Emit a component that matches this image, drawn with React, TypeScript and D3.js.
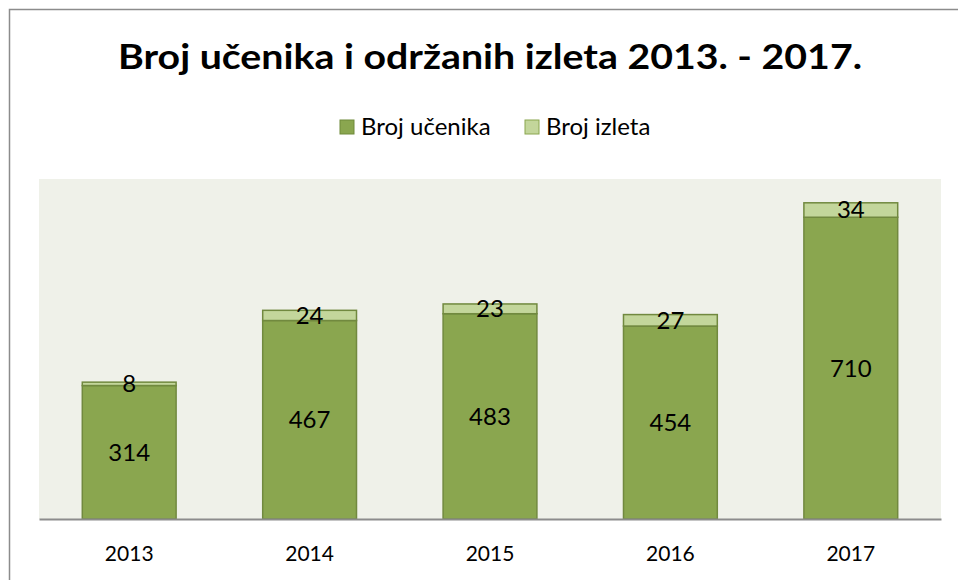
import React, { useEffect, useRef } from "react";
import * as d3 from "d3";

const years = ["2013", "2014", "2015", "2016", "2017"];
const brojUcenika = [314, 467, 483, 454, 710];
const brojIzleta = [8, 24, 23, 27, 34];
const seriesNames = ["Broj učenika", "Broj izleta"];

const W = 958;
const H = 580;
const FONT = "Lato, 'Open Sans', sans-serif";

export default function App() {
  const ref = useRef<SVGSVGElement>(null);

  useEffect(() => {
    document.body.style.margin = "0";
    document.body.style.overflow = "hidden";
    const svg = d3.select(ref.current);
    svg.selectAll("*").remove();

    const plot = { left: 39, right: 941, top: 179, bottom: 519 };

    // outer frame: only the top and left edges are inside the picture
    svg
      .append("path")
      .attr("d", `M9.5,${H} V9.5 H${W}`)
      .attr("fill", "none")
      .attr("stroke", "#8c8c8c")
      .attr("stroke-width", 1.5);

    svg
      .append("text")
      .attr("x", 490)
      .attr("y", 69)
      .attr("text-anchor", "middle")
      .attr("textLength", 744)
      .attr("lengthAdjust", "spacingAndGlyphs")
      .style("font-family", FONT)
      .style("font-weight", "bold")
      .style("font-size", "35px")
      .text("Broj učenika i održanih izleta 2013. - 2017.");

    // legend
    const legendX = [340, 525];
    const legendFill = ["#8aa64f", "#c3d69b"];
    const legendStroke = ["#6f8a3a", "#8aa64f"];
    seriesNames.forEach((name, i) => {
      svg
        .append("rect")
        .attr("x", legendX[i])
        .attr("y", 120)
        .attr("width", 14)
        .attr("height", 14)
        .attr("fill", legendFill[i])
        .attr("stroke", legendStroke[i]);
      svg
        .append("text")
        .attr("x", legendX[i] + 21)
        .attr("y", 135)
        .style("font-family", FONT)
        .style("font-size", "24px")
        .text(name);
    });

    svg
      .append("rect")
      .attr("x", plot.left)
      .attr("y", plot.top)
      .attr("width", plot.right - plot.left)
      .attr("height", plot.bottom - plot.top)
      .attr("fill", "#eff1e9");

    const x = d3
      .scaleBand()
      .domain(years)
      .range([plot.left, plot.right])
      .paddingInner(0.48)
      .paddingOuter(0.24);
    const y = d3.scaleLinear().domain([0, 800]).range([plot.bottom, plot.top]);

    const data = years.map((yr, i) => ({
      year: yr,
      u: brojUcenika[i],
      iz: brojIzleta[i],
    }));

    const g = svg.append("g");

    g.selectAll(".bar_u")
      .data(data)
      .join("rect")
      .attr("class", "bar_u")
      .attr("x", (d) => x(d.year)!)
      .attr("y", (d) => y(d.u))
      .attr("width", x.bandwidth())
      .attr("height", (d) => y(0) - y(d.u))
      .attr("fill", "#8aa64f")
      .attr("stroke", "#71893f")
      .attr("stroke-width", 1.5);

    g.selectAll(".bar_iz")
      .data(data)
      .join("rect")
      .attr("class", "bar_iz")
      .attr("x", (d) => x(d.year)!)
      .attr("y", (d) => y(d.u + d.iz))
      .attr("width", x.bandwidth())
      .attr("height", (d) => y(d.u) - y(d.u + d.iz))
      .attr("fill", "#c3d69b")
      .attr("stroke", "#71893f")
      .attr("stroke-width", 1.5);

    g.selectAll(".lbl_u")
      .data(data)
      .join("text")
      .attr("class", "lbl_u")
      .attr("x", (d) => x(d.year)! + x.bandwidth() / 2)
      .attr("y", (d) => (y(0) + y(d.u)) / 2)
      .attr("dy", "0.35em")
      .attr("text-anchor", "middle")
      .style("font-family", FONT)
      .style("font-size", "24px")
      .text((d) => d.u);

    g.selectAll(".lbl_iz")
      .data(data)
      .join("text")
      .attr("class", "lbl_iz")
      .attr("x", (d) => x(d.year)! + x.bandwidth() / 2)
      .attr("y", (d) => (y(d.u) + y(d.u + d.iz)) / 2)
      .attr("dy", "0.35em")
      .attr("text-anchor", "middle")
      .style("font-family", FONT)
      .style("font-size", "24px")
      .text((d) => d.iz);

    // x axis
    const axis = svg
      .append("g")
      .attr("transform", `translate(0, ${plot.bottom})`)
      .call(d3.axisBottom(x).tickSize(0).tickPadding(27));
    axis.select(".domain").attr("stroke", "#8c8c8c").attr("stroke-width", 2);
    axis
      .selectAll("text")
      .style("font-family", FONT)
      .style("font-size", "21px")
      .attr("fill", "#000");
  }, []);

  return <svg ref={ref} width={W} height={H} style={{ display: "block", overflow: "hidden" }} />;
}
